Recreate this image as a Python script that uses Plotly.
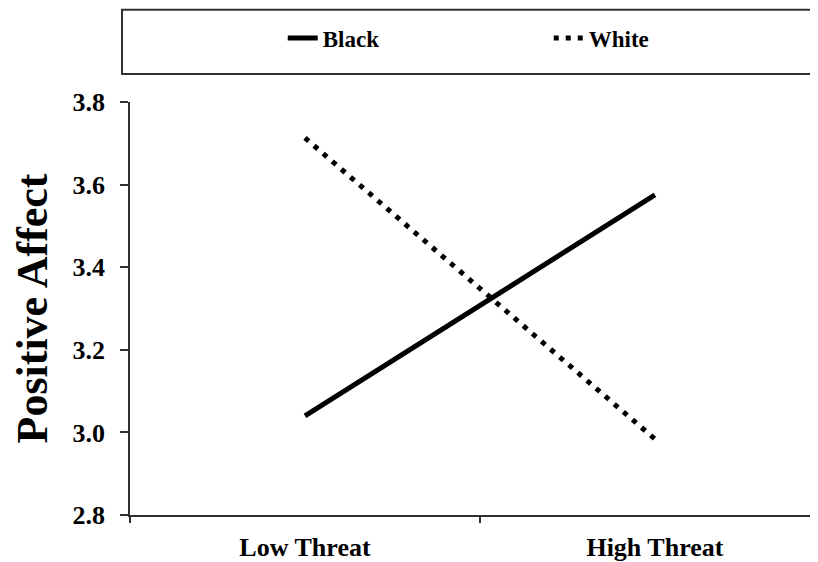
import plotly.graph_objects as go

categories = ["Low Threat", "High Threat"]
black_values = [3.04, 3.575]
white_values = [3.713, 2.984]
series_names = ["Black", "White"]
y_ticks = [2.8, 3.0, 3.2, 3.4, 3.6, 3.8]

SERIF = "Liberation Serif"

fig = go.Figure()
fig.add_trace(go.Scatter(
    x=categories, y=black_values, mode="lines", name=series_names[0],
    line=dict(color="black", width=5),
))
fig.add_trace(go.Scatter(
    x=categories, y=white_values, mode="lines", name=series_names[1],
    line=dict(color="black", width=5, dash="5px,7px"),
))

# the page body has an 8px margin, so the figure is shrunk by 8px on each axis
fig.update_layout(
    width=810, height=554,
    margin=dict(l=122, r=0, t=94, b=47),
    paper_bgcolor="white", plot_bgcolor="white",
    font=dict(family=SERIF, color="black", weight="bold"),
    showlegend=True,
    legend=dict(
        orientation="h", x=0.222, xanchor="left", y=1.155, yanchor="middle",
        entrywidth=221, entrywidthmode="pixels",
        font=dict(family=SERIF, size=23, color="black", weight="bold"),
        bgcolor="rgba(0,0,0,0)", borderwidth=0, itemwidth=30,
    ),
    shapes=[dict(
        type="rect", xref="paper", yref="paper",
        x0=-0.0116, x1=0.996, y0=1.0678, y1=1.2235,
        line=dict(color="#303030", width=2), fillcolor="rgba(0,0,0,0)",
    )],
)

fig.update_xaxes(
    type="category", range=[-0.5, 1.466], automargin=False,
    tickson="boundaries", ticks="outside", ticklen=6, tickwidth=1.5, tickcolor="#303030",
    showline=True, linecolor="#303030", linewidth=1.5,
    showgrid=False, zeroline=False,
    tickfont=dict(family=SERIF, size=26, color="black", weight="bold"),
    ticklabelstandoff=8,
)
fig.update_yaxes(
    range=[2.8, 3.8], tickvals=y_ticks, tickformat=".1f", automargin=False,
    ticks="outside", ticklen=8, tickwidth=1.5, tickcolor="#303030",
    showline=True, linecolor="#303030", linewidth=1.5,
    showgrid=False, zeroline=False,
    tickfont=dict(family=SERIF, size=26, color="black", weight="bold"),
    ticklabelstandoff=10,
    title=dict(text="Positive Affect", standoff=12,
               font=dict(family=SERIF, size=44, color="black", weight="bold")),
)

fig.write_html("out.html")
